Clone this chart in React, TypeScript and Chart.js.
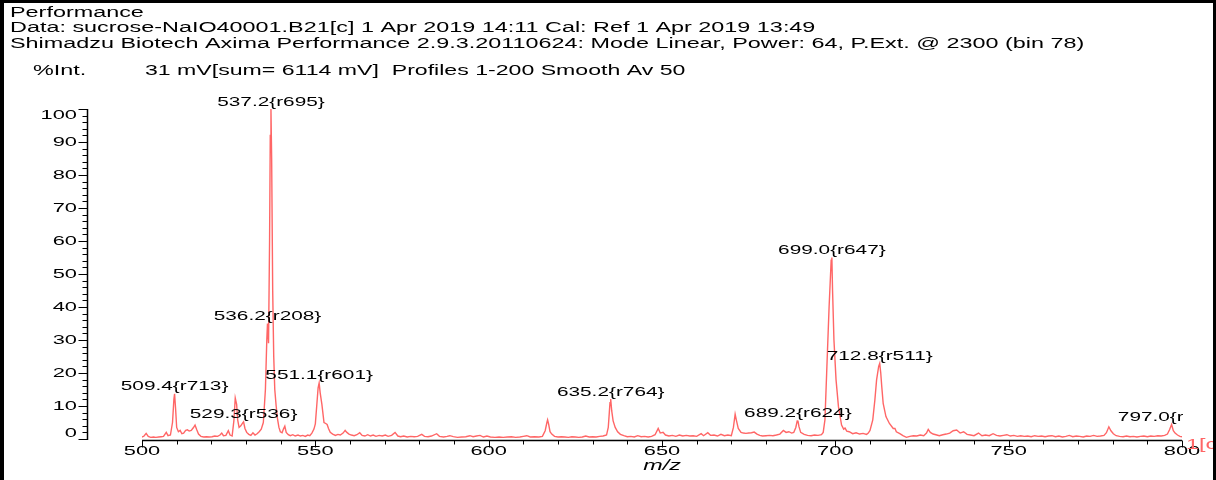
import React, { useEffect, useRef } from "react";
import { Chart, registerables } from "chart.js";

Chart.register(...registerables);

// ---- data ----
const mzValues: number[] = [
  500.0, 500.6, 501.2, 501.8, 502.5, 503.3, 504.0, 504.8, 505.5, 506.2, 507.0, 507.5, 508.2, 508.8, 509.2, 509.4, 509.7,
  510.0, 510.5, 511.0, 511.5, 512.0, 512.6, 513.1, 513.6, 514.2, 514.8, 515.3, 515.8, 516.3, 517.0, 517.8, 518.6, 519.4,
  520.2, 521.0, 521.8, 522.5, 523.0, 523.5, 524.2, 524.9, 525.4, 526.0, 526.5, 526.9, 527.3, 527.6, 528.0, 528.5, 529.0,
  529.3, 529.7, 530.2, 530.8, 531.4, 532.0, 532.6, 533.2, 533.8, 534.4, 535.0, 535.6, 536.0, 536.2, 536.5, 536.8, 537.0,
  537.2, 537.4, 537.7, 538.0, 538.3, 538.7, 539.1, 539.5, 539.9, 540.4, 540.8, 541.2, 541.6, 542.2, 542.8, 543.5, 544.2,
  545.0, 545.7, 546.4, 547.1, 547.8, 548.4, 549.0, 549.6, 550.0, 550.4, 550.8, 551.1, 551.4, 551.9, 552.5, 553.0, 553.4,
  553.8, 554.3, 555.0, 555.8, 556.5, 557.2, 558.0, 558.6, 559.1, 559.7, 560.4, 561.2, 562.0, 562.8, 563.5, 564.3, 565.1,
  565.9, 566.7, 567.5, 568.4, 569.3, 570.2, 571.0, 572.0, 573.0, 573.8, 574.6, 575.5, 576.5, 577.5, 578.5, 579.5, 580.7,
  581.5, 582.5, 583.5, 585.0, 585.8, 587.0, 588.0, 588.8, 589.8, 591.0, 592.2, 593.4, 594.6, 595.5, 596.5, 597.5, 598.5,
  599.5, 600.5, 601.8, 603.0, 604.2, 605.4, 606.6, 607.8, 609.0, 610.0, 611.0, 612.0, 613.2, 614.5, 615.5, 616.3, 616.8,
  617.0, 617.3, 617.7, 618.2, 619.0, 620.0, 621.0, 622.0, 623.0, 624.0, 625.0, 626.0, 627.0, 628.0, 629.0, 630.0, 631.0,
  632.0, 633.0, 634.0, 634.5, 634.8, 635.0, 635.2, 635.5, 635.9, 636.5, 637.2, 638.0, 639.0, 640.0, 641.0, 642.0, 643.0,
  644.0, 645.0, 646.0, 647.0, 648.0, 648.9, 649.5, 650.3, 651.0, 652.0, 653.0, 654.0, 655.0, 656.0, 657.0, 658.0, 659.0,
  660.0, 661.3, 662.0, 663.2, 664.0, 665.0, 666.0, 667.0, 668.0, 669.0, 670.0, 670.6, 671.1, 671.5, 672.0, 672.8, 673.5,
  674.2, 675.0, 675.8, 676.6, 677.4, 678.2, 679.0, 680.0, 681.0, 682.0, 683.0, 684.0, 685.0, 685.8, 686.6, 687.4, 688.0,
  688.6, 689.0, 689.2, 689.5, 690.0, 691.0, 692.0, 693.0, 694.0, 695.0, 696.0, 696.5, 697.0, 697.5, 698.2, 698.8, 699.0,
  699.2, 699.6, 700.2, 700.9, 701.8, 702.4, 702.8, 703.3, 704.0, 705.0, 706.0, 707.0, 708.0, 709.0, 709.5, 710.0, 710.8,
  711.4, 711.9, 712.5, 712.8, 713.1, 713.4, 713.8, 714.6, 715.6, 716.7, 717.2, 717.6, 718.6, 719.5, 720.5, 721.5, 722.5,
  723.5, 724.5, 725.5, 726.3, 726.8, 727.4, 728.2, 729.0, 730.0, 731.0, 732.0, 733.0, 734.0, 735.0, 736.0, 737.0, 738.0,
  739.0, 740.0, 741.3, 742.3, 743.3, 744.4, 745.5, 746.5, 747.5, 748.5, 749.5, 750.5, 751.5, 752.5, 753.5, 754.5, 755.5,
  756.5, 757.5, 758.5, 759.5, 760.5, 761.5, 762.5, 763.5, 764.5, 765.5, 766.5, 767.5, 768.5, 769.5, 770.5, 771.5, 772.5,
  773.5, 774.5, 775.5, 776.5, 777.5, 778.2, 778.9, 779.5, 780.2, 781.0, 782.0, 783.0, 784.0, 785.0, 786.0, 787.0, 788.0,
  789.0, 790.0, 791.0, 792.0, 793.0, 794.0, 795.0, 795.8, 796.4, 797.0, 797.5, 798.0, 798.7, 799.4, 800.0,
];

const intensities: number[] = [
  0.6, 0.9, 1.7, 0.8, 0.5, 0.6, 0.5, 0.6, 0.7, 0.8, 2.0, 1.0, 1.2, 5.0, 12.0, 13.7, 9.0,
  3.5, 2.2, 2.6, 1.6, 1.8, 2.6, 2.8, 2.4, 2.6, 3.4, 4.2, 2.8, 1.5, 0.8, 0.6, 0.7, 0.6,
  0.7, 0.9, 0.8, 1.2, 1.8, 1.0, 1.1, 2.5, 1.2, 0.9, 5.5, 12.4, 10.5, 5.8, 3.5, 4.0, 4.8,
  5.2, 3.2, 2.0, 1.4, 1.1, 1.9, 1.2, 1.6, 2.2, 3.0, 5.0, 15.0, 30.0, 35.0, 29.0, 60.0, 92.0,
  100.0, 85.0, 45.0, 25.0, 15.0, 10.0, 6.0, 3.5, 2.2, 1.9, 3.0, 3.9, 2.0, 1.3, 1.0, 1.3, 0.9,
  1.2, 0.9, 1.1, 0.8, 1.2, 1.0, 1.8, 3.0, 4.6, 10.0, 15.5, 17.0, 14.0, 10.4, 5.0, 4.7, 4.4,
  3.2, 2.0, 1.5, 1.1, 1.4, 1.2, 1.8, 2.6, 2.0, 1.5, 1.2, 1.0, 1.3, 1.9, 1.1, 0.9, 1.3,
  0.9, 1.2, 0.8, 1.1, 0.9, 1.2, 0.8, 1.1, 2.0, 0.9, 0.7, 0.9, 0.6, 0.8, 0.7, 0.8, 1.4,
  0.8, 0.7, 0.9, 1.6, 0.8, 0.6, 0.8, 1.0, 0.7, 0.5, 0.6, 0.7, 1.0, 0.7, 0.9, 1.1, 0.6,
  0.9, 0.6, 0.5, 0.6, 0.5, 0.6, 0.7, 0.5, 0.6, 0.8, 1.0, 0.6, 0.7, 0.6, 0.8, 2.5, 5.0,
  5.8, 4.5, 2.2, 1.5, 0.8, 0.6, 0.7, 0.6, 0.5, 0.7, 0.6, 0.5, 0.6, 0.9, 0.6, 0.7, 0.6,
  0.8, 0.9, 1.2, 3.5, 8.0, 11.0, 12.1, 8.5, 5.5, 3.5, 2.2, 1.4, 1.0, 0.7, 0.8, 0.6, 1.0,
  0.7, 0.8, 0.6, 0.8, 1.3, 3.2, 1.8, 2.0, 1.2, 0.9, 1.1, 0.8, 1.2, 0.9, 1.1, 0.9, 1.0,
  0.8, 1.6, 1.0, 1.9, 1.1, 1.2, 0.9, 1.4, 1.0, 1.2, 1.0, 3.5, 7.5, 5.5, 3.2, 2.0, 1.8,
  1.7, 1.8, 1.9, 2.1, 1.5, 1.1, 0.9, 1.0, 1.1, 1.0, 1.2, 1.5, 2.6, 2.0, 2.2, 1.8, 2.0,
  3.5, 5.5, 5.6, 3.8, 2.0, 1.4, 1.1, 1.0, 1.2, 1.1, 1.3, 2.0, 5.8, 20.0, 40.0, 54.2, 55.0,
  45.0, 30.0, 18.0, 9.8, 4.2, 3.0, 3.3, 2.4, 2.2, 1.6, 1.9, 1.5, 1.7, 1.4, 1.8, 2.6, 5.8,
  11.8, 17.9, 22.0, 22.9, 20.0, 15.8, 10.8, 6.8, 4.7, 3.2, 3.2, 2.2, 1.6, 1.0, 0.5, 0.8, 1.0,
  0.9, 1.2, 1.0, 1.8, 2.9, 2.0, 1.5, 1.3, 1.0, 1.3, 1.5, 1.8, 2.5, 2.7, 1.8, 2.2, 1.4,
  1.2, 1.0, 1.8, 1.0, 1.2, 1.0, 1.6, 1.1, 0.9, 1.1, 1.3, 0.9, 1.1, 0.8, 1.0, 0.8, 0.9,
  0.7, 1.0, 0.8, 0.9, 0.7, 0.9, 1.0, 0.7, 0.9, 0.6, 0.8, 1.1, 0.7, 0.9, 0.8, 0.6, 0.9,
  0.8, 1.1, 0.8, 0.9, 1.1, 1.9, 3.7, 2.5, 1.6, 1.0, 0.8, 0.7, 0.9, 0.7, 0.8, 0.6, 0.8,
  0.9, 0.7, 0.9, 0.8, 1.0, 0.9, 1.1, 1.5, 2.8, 4.4, 2.5, 1.8, 1.2, 0.8, 0.7,
];

const peakMz: number[] = [509.4, 529.3, 536.2, 537.2, 551.1, 635.2, 689.2, 699.0, 712.8, 797.0];
const peakLabels: string[] = [
  "509.4{r713}", "529.3{r536}", "536.2{r208}", "537.2{r695}", "551.1{r601}",
  "635.2{r764}", "689.2{r624}", "699.0{r647}", "712.8{r511}", "797.0{r579}",
];

const xTickValues: number[] = [500, 550, 600, 650, 700, 750, 800];
const yTickValues: number[] = [0, 10, 20, 30, 40, 50, 60, 70, 80, 90, 100];

const headerLines: string[] = [
  "Performance",
  "Data: sucrose-NaIO40001.B21[c] 1 Apr 2019 14:11 Cal: Ref 1 Apr 2019 13:49",
  "Shimadzu Biotech Axima Performance 2.9.3.20110624: Mode Linear, Power: 64, P.Ext. @ 2300 (bin 78)",
];
const yAxisName = "%Int.";
const acquisitionInfo = "31 mV[sum= 6114 mV]  Profiles 1-200 Smooth Av 50";
const xAxisName = "m/z";
const cornerTag = "1[c]";

const LINE_COLOR = "rgb(255,102,102)";
const FONT_FAMILY = "'Liberation Sans', Arial, Helvetica, sans-serif";

function stretchText(
  ctx: CanvasRenderingContext2D,
  text: string,
  x: number,
  y: number,
  align: "left" | "center" | "right",
  font: string,
  sx: number,
  color: string
) {
  ctx.save();
  ctx.font = font;
  const w = ctx.measureText(text).width * sx;
  const left = align === "left" ? x : align === "center" ? x - w / 2 : x - w;
  ctx.translate(left, y);
  ctx.scale(sx, 1);
  ctx.fillStyle = color;
  ctx.textAlign = "left";
  ctx.textBaseline = "middle";
  ctx.fillText(text, 0, 0);
  ctx.restore();
}

const spectrumDecor = {
  id: "spectrumDecor",
  afterDraw(chart: any) {
    const ctx: CanvasRenderingContext2D = chart.ctx;
    const xs = chart.scales.x;
    const ys = chart.scales.y;
    const area = chart.chartArea;
    const W = chart.width;
    const H = chart.height;

    const headerFont = `14px ${FONT_FAMILY}`;
    const tickFont = `13px ${FONT_FAMILY}`;
    const labelFont = `13px ${FONT_FAMILY}`;

    // header
    const headerY = [13, 28.5, 44];
    headerLines.forEach((t, i) => stretchText(ctx, t, 10, headerY[i], "left", headerFont, 1.67, "#000"));
    stretchText(ctx, yAxisName, 33, 71, "left", headerFont, 1.67, "#000");
    stretchText(ctx, acquisitionInfo, 145, 71, "left", headerFont, 1.65, "#000");

    ctx.save();
    ctx.strokeStyle = "#000";

    // y axis (detached, to the left of the plot)
    const yAxisX = 87.5;
    const y0 = ys.getPixelForValue(0);
    const y100 = ys.getPixelForValue(100);
    ctx.lineWidth = 1.5;
    ctx.beginPath();
    ctx.moveTo(yAxisX, y100);
    ctx.lineTo(yAxisX, y0 + 1);
    ctx.stroke();
    ctx.lineWidth = 1;
    for (let v = 0; v <= 100; v += 2) {
      const py = Math.round(ys.getPixelForValue(v)) + 0.5;
      const major = v % 10 === 0;
      ctx.beginPath();
      ctx.moveTo(yAxisX, py);
      ctx.lineTo(yAxisX - (major ? 9 : 5), py);
      ctx.stroke();
    }

    // x axis
    const xAxisY = Math.round(y0) + 1.5;
    ctx.lineWidth = 1.5;
    ctx.beginPath();
    ctx.moveTo(xs.getPixelForValue(500), xAxisY);
    ctx.lineTo(xs.getPixelForValue(800), xAxisY);
    ctx.stroke();
    ctx.lineWidth = 1;
    for (let v = 500; v <= 800; v += 10) {
      const px = Math.round(xs.getPixelForValue(v)) + 0.5;
      const major = v % 50 === 0;
      ctx.beginPath();
      ctx.moveTo(px, xAxisY);
      ctx.lineTo(px, xAxisY + (major ? 7 : 4));
      ctx.stroke();
    }
    ctx.restore();

    // tick labels
    yTickValues.forEach((v) => {
      let py = ys.getPixelForValue(v);
      py = Math.min(Math.max(py, area.top + 6), area.bottom - 6);
      stretchText(ctx, String(v), 77, py, "right", tickFont, 1.68, "#000");
    });
    xTickValues.forEach((v) => {
      stretchText(ctx, String(v), xs.getPixelForValue(v), 451, "center", tickFont, 1.68, "#000");
    });

    // axis title
    stretchText(ctx, xAxisName, (area.left + area.right) / 2, 466, "center", `italic 14px ${FONT_FAMILY}`, 1.67, "#000");

    // peak labels (clipped at right edge of plot)
    ctx.save();
    ctx.beginPath();
    ctx.rect(0, 0, area.right + 1, H);
    ctx.clip();
    peakMz.forEach((m, i) => {
      const idx = mzValues.indexOf(m);
      const val = idx >= 0 ? intensities[idx] : 0;
      const px = xs.getPixelForValue(m);
      const py = ys.getPixelForValue(val) - 7;
      stretchText(ctx, peakLabels[i], px, py, "center", labelFont, 1.6, "#000");
    });
    ctx.restore();

    // corner tag
    ctx.save();
    ctx.beginPath();
    ctx.rect(0, 0, W - 3, H);
    ctx.clip();
    stretchText(ctx, cornerTag, area.right + 4, 445, "left", headerFont, 1.67, LINE_COLOR);
    ctx.restore();

    // frame
    ctx.save();
    ctx.fillStyle = "#000";
    ctx.fillRect(0, 0, 4, H);
    ctx.fillRect(0, 0, W, 3);
    ctx.fillRect(W - 3, 0, 3, H);
    ctx.restore();
  },
};

export default function App() {
  const canvasRef = useRef<HTMLCanvasElement | null>(null);

  useEffect(() => {
    if (!canvasRef.current) return;
    const points = mzValues.map((m, i) => ({ x: m, y: intensities[i] }));
    const chart = new Chart(canvasRef.current, {
      type: "line",
      data: {
        datasets: [
          {
            data: points,
            borderColor: LINE_COLOR,
            borderWidth: 1.4,
            pointRadius: 0,
            tension: 0,
            fill: false,
          },
        ],
      },
      options: {
        responsive: false,
        animation: false,
        events: [],
        layout: { padding: { left: 142, right: 34, top: 109, bottom: 41 } },
        plugins: {
          legend: { display: false },
          tooltip: { enabled: false },
          title: { display: false },
        },
        scales: {
          x: { type: "linear", min: 500, max: 800, display: false },
          y: { type: "linear", min: 0, max: 100, display: false },
        },
      },
      plugins: [spectrumDecor],
    });
    return () => chart.destroy();
  }, []);

  return (
    <div style={{ position: "fixed", left: 0, top: 0, width: 1216, height: 480, background: "#fff" }}>
      <canvas ref={canvasRef} width={1216} height={480} style={{ display: "block", width: 1216, height: 480 }} />
    </div>
  );
}
